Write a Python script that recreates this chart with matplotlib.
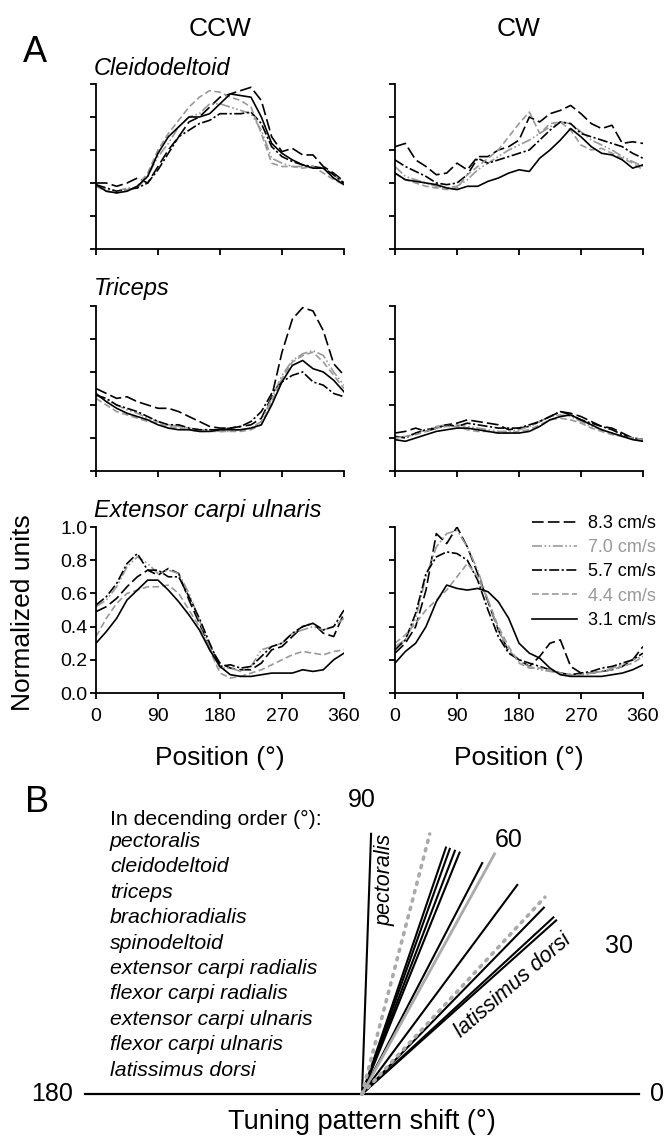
import numpy as np
import matplotlib.pyplot as plt

plt.rcParams['font.family'] = ['Liberation Sans', 'DejaVu Sans']

# figure size in pixels (dpi 100)
W, H = 664, 1136

# ---- data : positions (deg) and normalized EMG for each speed ----
positions = np.arange(0, 361, 15)
speeds = ['8.3 cm/s', '7.0 cm/s', '5.7 cm/s', '4.4 cm/s', '3.1 cm/s']

# order of rows in each list : 8.3, 7.0, 5.7, 4.4, 3.1 cm/s
cleido_ccw = [
    [0.40, 0.40, 0.38, 0.40, 0.43, 0.40, 0.50, 0.60, 0.68, 0.77, 0.80, 0.86, 0.92, 0.94, 0.96, 0.98, 0.90, 0.68, 0.59, 0.61, 0.57, 0.57, 0.50, 0.46, 0.41],
    [0.38, 0.36, 0.35, 0.37, 0.37, 0.44, 0.56, 0.64, 0.74, 0.80, 0.82, 0.88, 0.88, 0.86, 0.84, 0.82, 0.72, 0.55, 0.52, 0.50, 0.50, 0.49, 0.49, 0.45, 0.40],
    [0.39, 0.37, 0.35, 0.36, 0.37, 0.40, 0.48, 0.58, 0.68, 0.72, 0.76, 0.78, 0.82, 0.82, 0.82, 0.83, 0.76, 0.62, 0.56, 0.53, 0.51, 0.50, 0.49, 0.45, 0.40],
    [0.38, 0.35, 0.34, 0.36, 0.38, 0.46, 0.60, 0.70, 0.78, 0.86, 0.92, 0.96, 0.95, 0.92, 0.90, 0.86, 0.70, 0.52, 0.50, 0.50, 0.49, 0.50, 0.46, 0.42, 0.39],
    [0.39, 0.35, 0.34, 0.35, 0.38, 0.44, 0.58, 0.68, 0.74, 0.80, 0.80, 0.82, 0.88, 0.94, 0.93, 0.92, 0.80, 0.64, 0.58, 0.54, 0.51, 0.49, 0.49, 0.43, 0.39],
]
cleido_cw = [
    [0.62, 0.64, 0.54, 0.50, 0.45, 0.46, 0.52, 0.48, 0.56, 0.56, 0.60, 0.62, 0.66, 0.80, 0.77, 0.82, 0.84, 0.87, 0.82, 0.76, 0.73, 0.75, 0.64, 0.65, 0.64],
    [0.50, 0.44, 0.42, 0.40, 0.38, 0.37, 0.38, 0.42, 0.48, 0.52, 0.56, 0.60, 0.63, 0.66, 0.70, 0.74, 0.77, 0.76, 0.71, 0.66, 0.63, 0.60, 0.56, 0.53, 0.50],
    [0.54, 0.50, 0.47, 0.44, 0.40, 0.39, 0.40, 0.45, 0.55, 0.52, 0.54, 0.56, 0.58, 0.60, 0.66, 0.72, 0.77, 0.76, 0.70, 0.68, 0.66, 0.64, 0.62, 0.58, 0.55],
    [0.46, 0.42, 0.40, 0.38, 0.37, 0.36, 0.37, 0.45, 0.50, 0.55, 0.60, 0.68, 0.76, 0.83, 0.70, 0.76, 0.77, 0.72, 0.63, 0.60, 0.61, 0.58, 0.55, 0.52, 0.48],
    [0.46, 0.42, 0.41, 0.40, 0.39, 0.37, 0.36, 0.38, 0.38, 0.41, 0.43, 0.46, 0.48, 0.47, 0.55, 0.60, 0.66, 0.73, 0.68, 0.62, 0.58, 0.57, 0.54, 0.49, 0.51],
]
triceps_ccw = [
    [0.50, 0.47, 0.44, 0.45, 0.42, 0.40, 0.38, 0.38, 0.36, 0.33, 0.30, 0.27, 0.26, 0.26, 0.27, 0.28, 0.32, 0.45, 0.72, 0.92, 0.99, 0.97, 0.85, 0.65, 0.58],
    [0.46, 0.43, 0.40, 0.37, 0.35, 0.32, 0.30, 0.28, 0.27, 0.26, 0.25, 0.25, 0.24, 0.24, 0.25, 0.26, 0.30, 0.44, 0.58, 0.67, 0.71, 0.73, 0.70, 0.60, 0.52],
    [0.46, 0.44, 0.40, 0.38, 0.36, 0.33, 0.30, 0.28, 0.28, 0.26, 0.25, 0.25, 0.25, 0.26, 0.27, 0.30, 0.36, 0.47, 0.54, 0.58, 0.60, 0.54, 0.52, 0.47, 0.45],
    [0.44, 0.40, 0.36, 0.34, 0.32, 0.30, 0.29, 0.27, 0.26, 0.25, 0.24, 0.24, 0.24, 0.24, 0.24, 0.25, 0.28, 0.42, 0.56, 0.66, 0.70, 0.72, 0.66, 0.58, 0.50],
    [0.47, 0.42, 0.38, 0.35, 0.33, 0.31, 0.28, 0.26, 0.25, 0.25, 0.24, 0.24, 0.25, 0.25, 0.25, 0.26, 0.28, 0.40, 0.54, 0.64, 0.67, 0.62, 0.60, 0.55, 0.48],
]
triceps_cw = [
    [0.23, 0.24, 0.26, 0.24, 0.26, 0.28, 0.29, 0.31, 0.30, 0.29, 0.28, 0.25, 0.26, 0.27, 0.30, 0.33, 0.36, 0.35, 0.33, 0.30, 0.27, 0.26, 0.23, 0.20, 0.19],
    [0.20, 0.21, 0.23, 0.25, 0.27, 0.28, 0.28, 0.27, 0.26, 0.25, 0.24, 0.24, 0.25, 0.27, 0.30, 0.33, 0.34, 0.33, 0.30, 0.27, 0.25, 0.23, 0.21, 0.20, 0.19],
    [0.21, 0.20, 0.23, 0.25, 0.26, 0.28, 0.27, 0.29, 0.28, 0.27, 0.26, 0.26, 0.26, 0.28, 0.30, 0.33, 0.36, 0.34, 0.31, 0.29, 0.27, 0.25, 0.22, 0.20, 0.19],
    [0.20, 0.21, 0.22, 0.24, 0.26, 0.27, 0.27, 0.25, 0.24, 0.24, 0.23, 0.23, 0.24, 0.25, 0.28, 0.31, 0.32, 0.31, 0.29, 0.26, 0.24, 0.22, 0.21, 0.20, 0.19],
    [0.19, 0.18, 0.20, 0.22, 0.24, 0.25, 0.26, 0.26, 0.25, 0.24, 0.23, 0.23, 0.23, 0.24, 0.27, 0.31, 0.33, 0.34, 0.31, 0.28, 0.25, 0.23, 0.21, 0.19, 0.18],
]
ecu_ccw = [
    [0.49, 0.52, 0.57, 0.64, 0.70, 0.74, 0.71, 0.75, 0.72, 0.56, 0.42, 0.28, 0.18, 0.15, 0.14, 0.14, 0.18, 0.26, 0.28, 0.34, 0.40, 0.42, 0.36, 0.34, 0.48],
    [0.52, 0.56, 0.64, 0.76, 0.82, 0.78, 0.72, 0.74, 0.72, 0.60, 0.44, 0.28, 0.15, 0.15, 0.13, 0.16, 0.26, 0.28, 0.30, 0.36, 0.38, 0.40, 0.38, 0.40, 0.45],
    [0.53, 0.58, 0.66, 0.78, 0.84, 0.74, 0.74, 0.70, 0.70, 0.58, 0.45, 0.30, 0.16, 0.17, 0.15, 0.16, 0.22, 0.28, 0.30, 0.36, 0.40, 0.42, 0.38, 0.40, 0.50],
    [0.34, 0.45, 0.54, 0.60, 0.62, 0.64, 0.64, 0.65, 0.60, 0.50, 0.40, 0.26, 0.12, 0.09, 0.10, 0.12, 0.14, 0.17, 0.20, 0.23, 0.25, 0.24, 0.23, 0.25, 0.26],
    [0.30, 0.37, 0.45, 0.56, 0.62, 0.68, 0.68, 0.62, 0.55, 0.47, 0.38, 0.26, 0.16, 0.11, 0.10, 0.10, 0.11, 0.12, 0.12, 0.12, 0.14, 0.13, 0.14, 0.20, 0.24],
]
ecu_cw = [
    [0.24, 0.30, 0.40, 0.62, 0.96, 0.90, 1.00, 0.88, 0.72, 0.55, 0.38, 0.25, 0.20, 0.16, 0.22, 0.30, 0.32, 0.16, 0.12, 0.12, 0.13, 0.14, 0.16, 0.20, 0.28],
    [0.28, 0.32, 0.45, 0.70, 0.88, 0.96, 0.98, 0.88, 0.74, 0.56, 0.38, 0.26, 0.19, 0.16, 0.14, 0.13, 0.12, 0.11, 0.11, 0.12, 0.13, 0.15, 0.17, 0.20, 0.22],
    [0.26, 0.32, 0.48, 0.72, 0.82, 0.85, 0.84, 0.80, 0.68, 0.50, 0.34, 0.24, 0.20, 0.18, 0.16, 0.14, 0.12, 0.11, 0.12, 0.13, 0.15, 0.16, 0.18, 0.20, 0.24],
    [0.30, 0.35, 0.42, 0.50, 0.56, 0.62, 0.70, 0.78, 0.70, 0.56, 0.40, 0.28, 0.18, 0.15, 0.15, 0.14, 0.12, 0.11, 0.11, 0.12, 0.13, 0.14, 0.16, 0.18, 0.22],
    [0.18, 0.25, 0.30, 0.40, 0.55, 0.65, 0.63, 0.62, 0.63, 0.61, 0.55, 0.45, 0.30, 0.24, 0.21, 0.15, 0.11, 0.10, 0.10, 0.10, 0.10, 0.11, 0.12, 0.14, 0.17],
]

muscle_titles = ['Cleidodeltoid', 'Triceps', 'Extensor carpi ulnaris']
panel_data = [[cleido_ccw, cleido_cw], [triceps_ccw, triceps_cw], [ecu_ccw, ecu_cw]]

# panel B : tuning pattern shift (deg) per muscle, plus mean and mean +/- SD
muscle_order = ['pectoralis', 'cleidodeltoid', 'triceps', 'brachioradialis', 'spinodeltoid',
                'extensor carpi radialis', 'flexor carpi radialis', 'extensor carpi ulnaris',
                'flexor carpi ulnaris', 'latissimus dorsi']
shift_deg = [88.0, 71.2, 70.3, 69.1, 68.0, 62.5, 53.4, 45.7, 42.7, 41.8]
shift_mean = 61.1
shift_sd_lines = [75.4, 47.1]

# ---- styles ----
GRAY = '#999999'
line_styles = [
    dict(color='black', dashes=(7, 2.5)),
    dict(color=GRAY, dashes=(6, 1.5, 1, 1.5, 1, 1.5)),
    dict(color='black', dashes=(6, 1.5, 1.3, 1.5)),
    dict(color=GRAY, dashes=(4, 2)),
    dict(color='black', linestyle='-'),
]


def rect(x0, y0, x1, y1):
    return [x0 / W, 1 - y1 / H, (x1 - x0) / W, (y1 - y0) / H]


def ftext(x, y, s, **kw):
    fig.text(x / W, 1 - y / H, s, **kw)


fig = plt.figure(figsize=(W / 100, H / 100), dpi=100)

cols = [(96, 344), (395, 643)]
rows = [(84, 249), (306, 471), (527, 693)]

axes = []
for r, (y0, y1) in enumerate(rows):
    for c, (x0, x1) in enumerate(cols):
        ax = fig.add_axes(rect(x0, y0, x1, y1))
        for vals, st in zip(panel_data[r][c], line_styles):
            ax.plot(positions, vals, lw=1.2, **st)
        ax.set_xlim(0, 360)
        ax.set_ylim(0, 1)
        ax.set_xticks([0, 90, 180, 270, 360])
        ax.set_yticks([0, 0.2, 0.4, 0.6, 0.8, 1.0])
        ax.spines['top'].set_visible(False)
        ax.spines['right'].set_visible(False)
        for s in ['left', 'bottom']:
            ax.spines[s].set_linewidth(1.3)
        ax.tick_params(direction='out', length=4, width=1.3, labelsize=14)
        ax.tick_params(axis='x', pad=7)
        ax.tick_params(axis='y', pad=2)
        if r < 2:
            ax.set_xticklabels([])
        if r < 2 or c == 1:
            ax.set_yticklabels([])
        else:
            ax.set_yticklabels(['0.0', '0.2', '0.4', '0.6', '0.8', '1.0'])
        ax.patch.set_visible(False)
        axes.append(ax)

# legend in the last panel
leg = axes[-1].legend(speeds, loc='upper left', bbox_to_anchor=(532 / W, 1 - 515 / H),
                      bbox_transform=fig.transFigure, frameon=False, borderpad=0,
                      borderaxespad=0, handlelength=2.5, handletextpad=0.6,
                      labelspacing=0.4, fontsize=13)
for t, st in zip(leg.get_texts(), line_styles):
    t.set_color(st['color'])

# titles and labels, panel A
ftext(23, 62, 'A', fontsize=26, va='baseline')
ftext(220, 36, 'CCW', fontsize=19, ha='center', va='baseline')
ftext(519, 36, 'CW', fontsize=19, ha='center', va='baseline')
for (title, base) in zip(muscle_titles, [75, 295, 517]):
    ftext(94, base, title, fontsize=17, style='italic', va='baseline')
ftext(23, 613, 'Normalized units', fontsize=19, rotation=90, ha='center', va='center')
for x0, x1 in cols:
    ftext((x0 + x1) / 2, 758, 'Position (°)', fontsize=19, ha='center', va='center')

# ---- panel B ----
S = 554
ox, oy = 362, 1094
axp = fig.add_axes(rect(ox - S / 2, oy - S / 2 - S / 4, ox + S / 2, oy + S / 2 - S / 4),
                   projection='polar')
axp.set_thetamin(0)
axp.set_thetamax(180)
axp.set_rlim(0, 1)
axp.axis('off')

axp.plot([0, 0], [0, 1], color='black', lw=1.6, clip_on=False)
axp.plot([np.pi, np.pi], [0, 1], color='black', lw=1.6, clip_on=False)
for a in shift_deg:
    axp.plot([np.deg2rad(a)] * 2, [0, 0.94], color='black', lw=1.5, clip_on=False)
axp.plot([np.deg2rad(shift_mean)] * 2, [0, 0.99], color='#aaaaaa', lw=2.0, clip_on=False)
for a in shift_sd_lines:
    axp.plot([np.deg2rad(a)] * 2, [0, 0.97], color='#aaaaaa', lw=2.6,
             linestyle=(0, (0.6, 1.8)), dash_capstyle='round', clip_on=False)

axp.text(np.deg2rad(90), 1.06, '90', fontsize=18, ha='center', va='center')
axp.text(np.deg2rad(60), 1.06, '60', fontsize=18, ha='center', va='center')
axp.text(np.deg2rad(30), 1.07, '30', fontsize=18, ha='center', va='center')
axp.text(0, 1.065, '0', fontsize=18, ha='center', va='center')
axp.text(np.pi, 1.045, '180', fontsize=18, ha='right', va='center')
axp.text(np.deg2rad(83.9), 0.777, 'pectoralis', fontsize=15.5, style='italic',
         rotation=90, ha='center', va='center')
axp.text(np.deg2rad(35.8), 0.67, 'latissimus dorsi', fontsize=15.5, style='italic',
         rotation=41, ha='center', va='center')

ftext(25, 812, 'B', fontsize=26, va='baseline')
ftext(110, 825, 'In decending order (°):', fontsize=15.3, va='baseline')
for i, name in enumerate(muscle_order):
    ftext(110, 847 + 25.4 * i, name, fontsize=15.3, style='italic', va='baseline')
ftext(362, 1122, 'Tuning pattern shift (°)', fontsize=19.5, ha='center', va='center')

fig.savefig('out.png', dpi=100)
